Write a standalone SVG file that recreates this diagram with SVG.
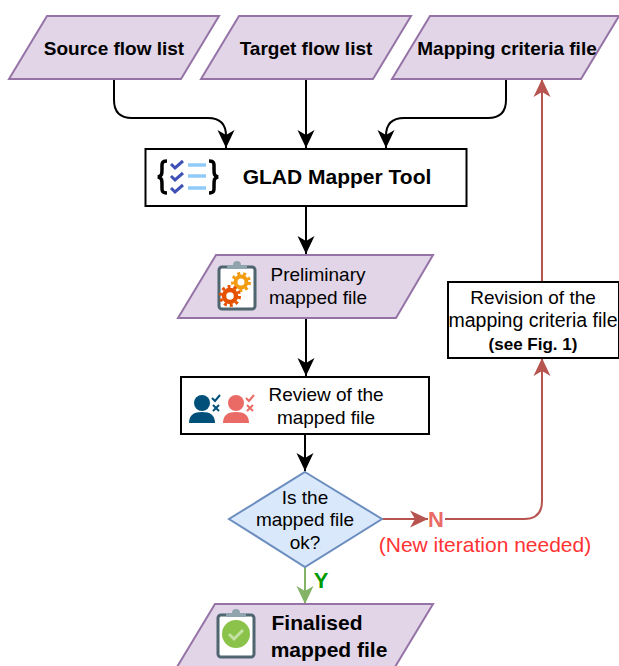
<svg xmlns="http://www.w3.org/2000/svg" width="619" height="666" viewBox="0 0 619 666">
<style>
text{font-family:"Liberation Sans",Arial,sans-serif;fill:#000;text-anchor:middle}
.p{fill:#e1d5e7;stroke:#9673a6;stroke-width:2}
.b{fill:#fff;stroke:#000;stroke-width:2}
.k{fill:none;stroke:#000;stroke-width:2}
.r{fill:none;stroke:#b85450;stroke-width:2}
.g{fill:none;stroke:#82b366;stroke-width:2}
.t{font-size:19px;font-weight:bold}
.n{font-size:19px}
.h{font-size:21px;font-weight:bold}
</style>
<defs>
<marker id="ak" markerUnits="userSpaceOnUse" markerWidth="20" markerHeight="20" refX="18" refY="10" orient="auto"><path d="M0 1.500L18 10L0 18.500L5 10Z" fill="#000"/></marker>
<marker id="ar" markerUnits="userSpaceOnUse" markerWidth="20" markerHeight="20" refX="18" refY="10" orient="auto"><path d="M0 1.500L18 10L0 18.500L5 10Z" fill="#b85450"/></marker>
<marker id="ag" markerUnits="userSpaceOnUse" markerWidth="20" markerHeight="20" refX="18" refY="10" orient="auto"><path d="M0 1.500L18 10L0 18.500L5 10Z" fill="#82b366"/></marker>
<g id="clip">
<path d="M3 6h30a3 3 0 0 1 3 3v36a3 3 0 0 1-3 3H3a3 3 0 0 1-3-3V9a3 3 0 0 1 3-3Z" fill="#fff" stroke="#4f6570" stroke-width="3"/>
<path d="M8 8V4h6a4 4 0 0 1 8 0h6v4Z" fill="#90a4ae"/>
</g>
<g id="user"><circle cx="13" cy="8" r="8"/><path d="M0 28c0-8 5-11 13-11s13 3 13 11Z"/></g>
</defs>
<g id="connectors">
<path class="k" d="M114 79V100Q114 118 132 118H208Q226 118 226 136V148" marker-end="url(#ak)"/>
<path class="k" d="M306 79V148" marker-end="url(#ak)"/>
<path class="k" d="M506 79V100Q506 118 488 118H404Q386 118 386 136V148" marker-end="url(#ak)"/>
<path class="k" d="M306 206V254" marker-end="url(#ak)"/>
<path class="k" d="M306 318V376" marker-end="url(#ak)"/>
<path class="k" d="M305 433V471" marker-end="url(#ak)"/>
<path class="g" d="M305 567V604" marker-end="url(#ag)"/>
<path class="r" d="M382 519H428" marker-end="url(#ar)"/>
<path class="r" d="M445 519H524Q542 519 542 501V358" marker-end="url(#ar)"/>
<path class="r" d="M542 282V79" marker-end="url(#ar)"/>
</g>
<g id="source"><path class="p" d="M9 79L47 16H219L181 79Z"/><text class="t" x="114" y="55">Source flow list</text></g>
<g id="target"><path class="p" d="M201 79L239 16H411L373 79Z"/><text class="t" x="306" y="55">Target flow list</text></g>
<g id="criteria"><path class="p" d="M392 79L430 16H619L581 79Z"/><text class="t" x="507" y="55">Mapping criteria file</text></g>
<g id="tool"><rect class="b" x="145.500" y="149" width="321" height="57"/>
<text class="h" x="337" y="184">GLAD Mapper Tool</text>
<path d="M167 161c-6 0-5 3-5 8 0 5 0 7-4 8 4 1 4 3 4 8 0 5-1 8 5 8M209 161c6 0 5 3 5 8 0 5 0 7 4 8-4 1-4 3-4 8 0 5 1 8-5 8" fill="none" stroke="#000" stroke-width="3.500"/>
<path d="M171 164l4 4 8-7M171 176l4 4 8-7M171 188l4 4 8-7" fill="none" stroke="#3f51b5" stroke-width="3"/>
<path d="M188 165h18M188 176h18M188 188h18" stroke="#90caf9" stroke-width="3.500"/></g>
<g id="preliminary"><path class="p" d="M178 318L216 255H433L396 318Z"/>
<use href="#clip" x="219" y="261"/>
<circle cx="241" cy="282" r="5.500" fill="none" stroke="#f39c12" stroke-width="4"/><circle cx="241" cy="282" r="8.500" fill="none" stroke="#f39c12" stroke-width="3" stroke-dasharray="3 3"/>
<circle cx="230" cy="296" r="6" fill="none" stroke="#e65100" stroke-width="4.500"/><circle cx="230" cy="296" r="9.500" fill="none" stroke="#e65100" stroke-width="3" stroke-dasharray="3 3"/>
<text class="n" x="318" y="281">Preliminary</text><text class="n" x="318" y="304">mapped file</text></g>
<g id="review"><rect class="b" x="181" y="377" width="248" height="57"/>
<use href="#user" x="189" y="395" fill="#01507a"/><use href="#user" x="223" y="395" fill="#ea6b66"/>
<path d="M212 398l3 3 5-6M213 405l6 6M219 405l-6 6" fill="none" stroke="#01507a" stroke-width="2"/>
<path d="M246 398l3 3 5-6M247 405l6 6M253 405l-6 6" fill="none" stroke="#ea6b66" stroke-width="2"/>
<text class="n" x="326" y="401">Review of the</text><text class="n" x="326" y="424">mapped file</text></g>
<g id="decision"><path d="M305 472L382 519L305 567L229 519Z" fill="#dae8fc" stroke="#6c8ebf" stroke-width="2"/>
<text class="n" x="305" y="504">Is the</text><text class="n" x="305" y="526">mapped file</text><text class="n" x="305" y="549">ok?</text></g>
<g id="revision"><rect class="b" x="448" y="282" width="171" height="76"/>
<text class="n" x="533" y="304">Revision of the</text><text x="533" y="327" font-size="19.500">mapping criteria file</text><text x="533" y="350" font-size="17" font-weight="bold">(see Fig. 1)</text></g>
<g id="finalised"><path class="p" d="M177 667L215 604H433L395 667Z"/>
<use href="#clip" x="218" y="609"/>
<circle cx="236" cy="634" r="14" fill="#8bc34a"/><path d="M229 634l5 5 9-9" fill="none" stroke="#c5e1a5" stroke-width="3"/>
<text class="h" x="317" y="630">Finalised</text><text class="h" x="329" y="657">mapped file</text></g>
<g id="labels">
<text x="436" y="527" font-size="22" font-weight="bold" style="fill:#ea6b66">N</text>
<text x="485" y="552" font-size="21" style="fill:#ff3333">(New iteration needed)</text>
<text x="321" y="588" font-size="22" font-weight="bold" style="fill:#009900">Y</text>
</g>
</svg>
